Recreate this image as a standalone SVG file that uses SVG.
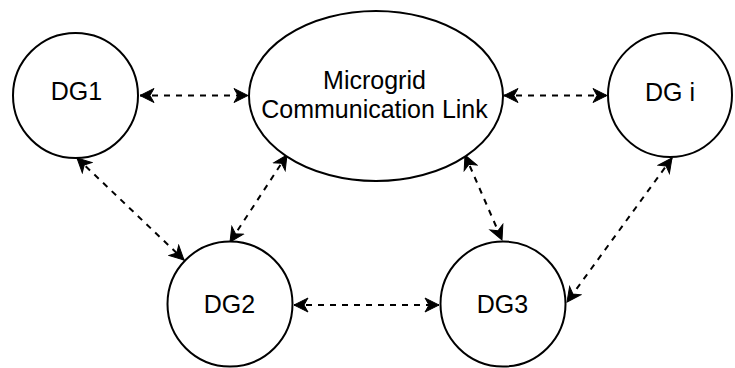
<svg xmlns="http://www.w3.org/2000/svg" width="735" height="368" viewBox="0 0 735 368">
  <defs>
    <style>
      .node { fill: #ffffff; stroke: #000000; stroke-width: 2; }
      .label { font-family: "Liberation Sans", Arial, Helvetica, sans-serif; font-size: 25px; fill: #000000; text-anchor: middle; }
      .link { fill: none; stroke: #000000; stroke-width: 2; stroke-dasharray: 6 6; marker-start: url(#arrow); marker-end: url(#arrow); }
    </style>
    <!-- classic notched arrowhead, tip at the line end -->
    <marker id="arrow" markerUnits="userSpaceOnUse" markerWidth="18" markerHeight="18" viewBox="-1 -9 18 18" refX="14" refY="0" orient="auto-start-reverse">
      <path d="M0,-7 L14,0 L0,7 L4,0 Z" fill="#000000" stroke="#000000" stroke-width="1" stroke-linejoin="miter"/>
    </marker>
  </defs>
  <rect width="735" height="368" fill="#ffffff"/>

  <g id="connectors">
    <line class="link" x1="140" y1="95.5" x2="248" y2="95.5"/>
    <line class="link" x1="504" y1="95.5" x2="607" y2="95.5"/>
    <line class="link" x1="294" y1="305" x2="439" y2="305"/>
    <line class="link" x1="77" y1="158" x2="184" y2="260"/>
    <line class="link" x1="287" y1="155" x2="230" y2="242"/>
    <line class="link" x1="465" y1="155" x2="502" y2="240"/>
    <line class="link" x1="672" y1="158" x2="567" y2="302"/>
  </g>

  <g id="dg1">
    <circle class="node" cx="75.5" cy="95.5" r="62.5"/>
    <text class="label" x="76.5" y="99.5">DG1</text>
  </g>

  <g id="microgrid-link">
    <ellipse class="node" cx="376" cy="96" rx="127" ry="85"/>
    <text class="label" x="374.5" y="88.5">Microgrid</text>
    <text class="label" x="374.5" y="117.5">Communication Link</text>
  </g>

  <g id="dg-i">
    <circle class="node" cx="670" cy="95" r="62"/>
    <text class="label" x="670" y="101">DG i</text>
  </g>

  <g id="dg2">
    <circle class="node" cx="230" cy="304" r="62.5"/>
    <text class="label" x="229.5" y="312.5">DG2</text>
  </g>

  <g id="dg3">
    <circle class="node" cx="503" cy="304" r="62.5"/>
    <text class="label" x="502.5" y="312.5">DG3</text>
  </g>
</svg>
